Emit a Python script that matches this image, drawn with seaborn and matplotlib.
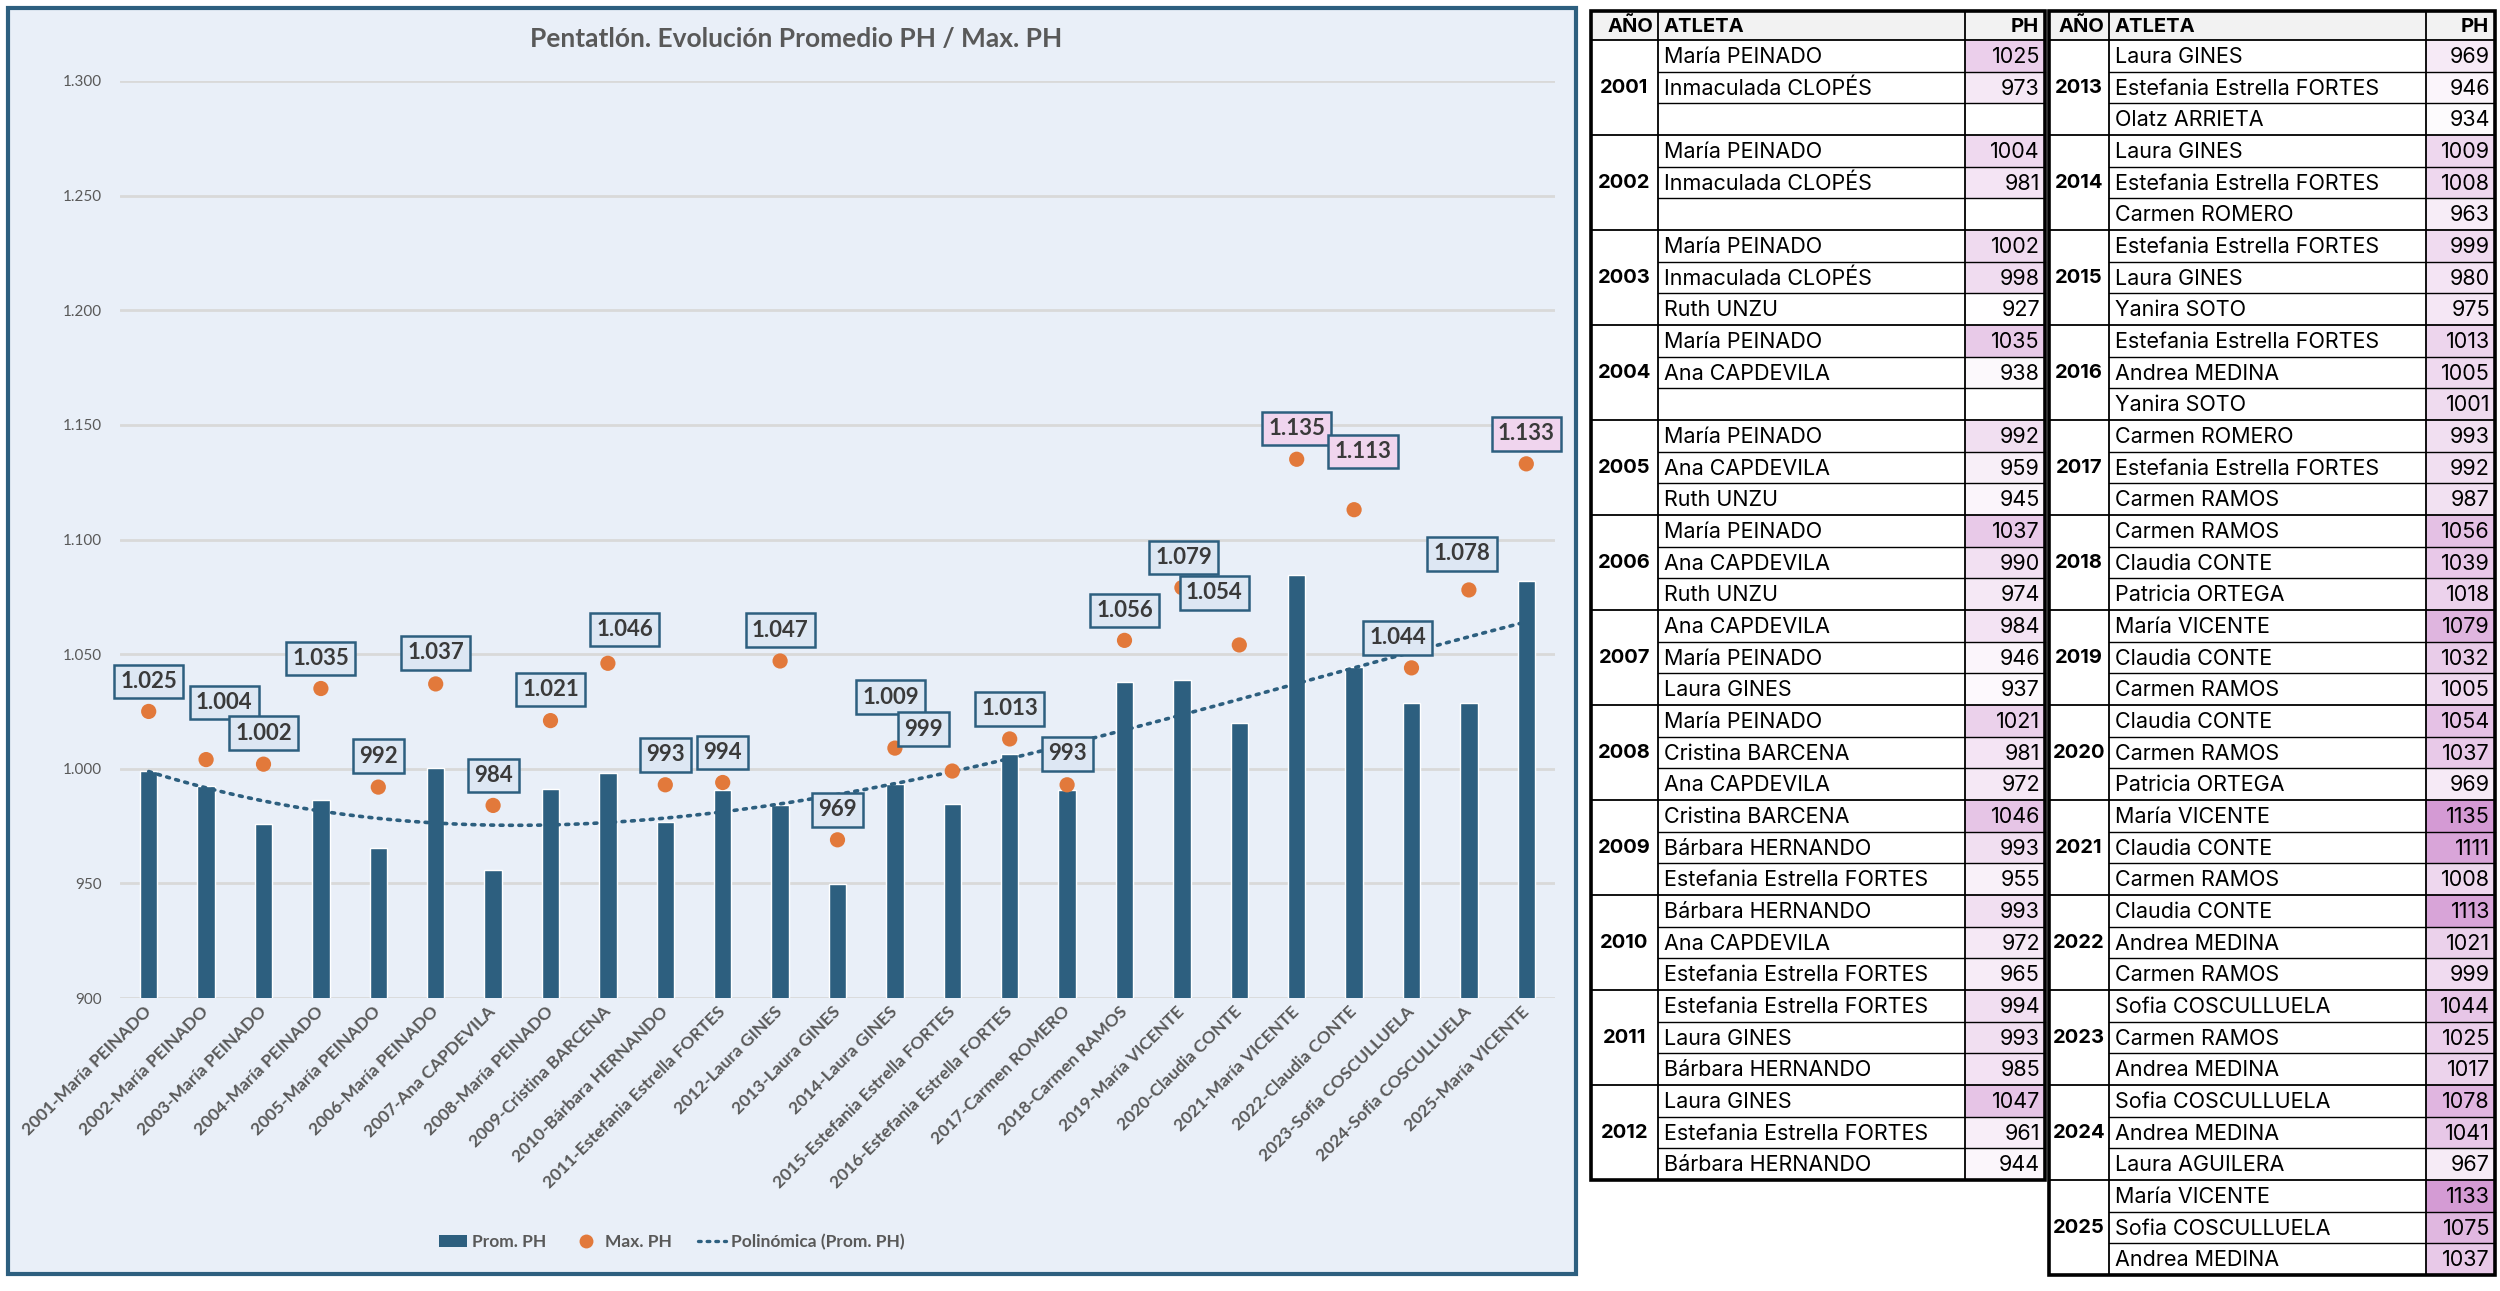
import numpy as np
import seaborn as sns
import matplotlib.pyplot as plt
from matplotlib import font_manager
from matplotlib.patches import Rectangle, Patch
from matplotlib.lines import Line2D
from matplotlib.colors import LinearSegmentedColormap, Normalize
from matplotlib.ticker import FuncFormatter

# ---- chart data ----
years = list(range(2001, 2026))
leaders = ["María PEINADO", "María PEINADO", "María PEINADO", "María PEINADO", "María PEINADO",
           "María PEINADO", "Ana CAPDEVILA", "María PEINADO", "Cristina BARCENA", "Bárbara HERNANDO",
           "Estefania Estrella FORTES", "Laura GINES", "Laura GINES", "Laura GINES",
           "Estefania Estrella FORTES", "Estefania Estrella FORTES", "Carmen ROMERO", "Carmen RAMOS",
           "María VICENTE", "Claudia CONTE", "María VICENTE", "Claudia CONTE", "Sofia COSCULLUELA",
           "Sofia COSCULLUELA", "María VICENTE"]
prom_ph = [999.0, 992.5, 975.7, 986.5, 965.3, 1000.3, 955.7, 991.3, 998.0, 976.7, 990.7, 984.0,
           949.7, 993.3, 984.7, 1006.3, 990.7, 1037.7, 1038.7, 1020.0, 1084.7, 1044.3, 1028.7,
           1028.7, 1081.7]
max_ph = [1025, 1004, 1002, 1035, 992, 1037, 984, 1021, 1046, 993, 994, 1047, 969, 1009, 999,
          1013, 993, 1056, 1079, 1054, 1135, 1113, 1044, 1078, 1133]

# ---- table data ----
left_years = list(range(2001, 2013))
left_athletes = [
    ["María PEINADO", "Inmaculada CLOPÉS"],
    ["María PEINADO", "Inmaculada CLOPÉS"],
    ["María PEINADO", "Inmaculada CLOPÉS", "Ruth UNZU"],
    ["María PEINADO", "Ana CAPDEVILA"],
    ["María PEINADO", "Ana CAPDEVILA", "Ruth UNZU"],
    ["María PEINADO", "Ana CAPDEVILA", "Ruth UNZU"],
    ["Ana CAPDEVILA", "María PEINADO", "Laura GINES"],
    ["María PEINADO", "Cristina BARCENA", "Ana CAPDEVILA"],
    ["Cristina BARCENA", "Bárbara HERNANDO", "Estefania Estrella FORTES"],
    ["Bárbara HERNANDO", "Ana CAPDEVILA", "Estefania Estrella FORTES"],
    ["Estefania Estrella FORTES", "Laura GINES", "Bárbara HERNANDO"],
    ["Laura GINES", "Estefania Estrella FORTES", "Bárbara HERNANDO"],
]
left_ph = [[1025, 973], [1004, 981], [1002, 998, 927], [1035, 938], [992, 959, 945],
           [1037, 990, 974], [984, 946, 937], [1021, 981, 972], [1046, 993, 955],
           [993, 972, 965], [994, 993, 985], [1047, 961, 944]]

right_years = list(range(2013, 2026))
right_athletes = [
    ["Laura GINES", "Estefania Estrella FORTES", "Olatz ARRIETA"],
    ["Laura GINES", "Estefania Estrella FORTES", "Carmen ROMERO"],
    ["Estefania Estrella FORTES", "Laura GINES", "Yanira SOTO"],
    ["Estefania Estrella FORTES", "Andrea MEDINA", "Yanira SOTO"],
    ["Carmen ROMERO", "Estefania Estrella FORTES", "Carmen RAMOS"],
    ["Carmen RAMOS", "Claudia CONTE", "Patricia ORTEGA"],
    ["María VICENTE", "Claudia CONTE", "Carmen RAMOS"],
    ["Claudia CONTE", "Carmen RAMOS", "Patricia ORTEGA"],
    ["María VICENTE", "Claudia CONTE", "Carmen RAMOS"],
    ["Claudia CONTE", "Andrea MEDINA", "Carmen RAMOS"],
    ["Sofia COSCULLUELA", "Carmen RAMOS", "Andrea MEDINA"],
    ["Sofia COSCULLUELA", "Andrea MEDINA", "Laura AGUILERA"],
    ["María VICENTE", "Sofia COSCULLUELA", "Andrea MEDINA"],
]
right_ph = [[969, 946, 934], [1009, 1008, 963], [999, 980, 975], [1013, 1005, 1001],
            [993, 992, 987], [1056, 1039, 1018], [1079, 1032, 1005], [1054, 1037, 969],
            [1135, 1111, 1008], [1113, 1021, 999], [1044, 1025, 1017], [1078, 1041, 967],
            [1133, 1075, 1037]]

categories = [f"{y}-{n}" for y, n in zip(years, leaders)]
x_pos = np.arange(len(years))

# label nudges in pixels (Excel labels were moved by hand)
label_dx = [0, 18, 0, 0, 0, 0, 0, 0, 17, 0, 0, 0, 0, -4, -29, 0, 0, 0, 2, -25, 0, 9, -14, -7, 0]
label_dy = [30, 57, 31, 30, 31, 31, 30, 31, 34, 30, 30, 31, 30, 51, 42, 30, 31, 30, 30, 52, 31, 58, 30, 36, 30]

# ---- style ----
sns.set_theme(style="white")
available = {f.name for f in font_manager.fontManager.ttflist}
chart_font = "Lato" if "Lato" in available else "DejaVu Sans"
table_font = "Inter" if "Inter" in available else "DejaVu Sans"
plt.rcParams["font.family"] = [chart_font, "DejaVu Sans"]

bar_color = "#2d5f7f"
dot_color = "#e2793b"
bg_color = "#e9eff8"
grey_txt = "#595959"
dots = (0, (0.8, 1.8))

W, H = 2500, 1291
fig = plt.figure(figsize=(W / 100, H / 100), dpi=100)
fig.patch.set_facecolor("white")

# chart panel background + border (behind the axes)
fig.patches.append(Rectangle((8 / W, 17 / H), 1568 / W, 1266 / H, transform=fig.transFigure,
                             fc=bg_color, ec=bar_color, lw=3, zorder=-5))

ax = fig.add_axes([120 / W, 1 - 998 / H, 1435 / W, 917 / H])
ax.set_facecolor("none")

sns.barplot(x=categories, y=prom_ph, color=bar_color, width=0.3, saturation=1, ax=ax, zorder=3)
# Excel "Polinómica" trendline on the averages
sns.regplot(x=x_pos, y=np.array(prom_ph), order=3, ci=None, scatter=False, ax=ax, truncate=True,
            color=bar_color,
            line_kws=dict(ls=dots, lw=2.6, dash_capstyle="round", zorder=4))
sns.scatterplot(x=x_pos, y=max_ph, color=dot_color, s=120, edgecolor="none", ax=ax, zorder=5)

for i, v in enumerate(max_ph):
    fill = "#f0d5ee" if v > 1100 else "#dde7f3"
    ax.annotate(f"{v:,}".replace(",", "."), xy=(i, v), xytext=(label_dx[i], label_dy[i]),
                textcoords="offset pixels", ha="center", va="center", fontsize=16,
                weight="bold", color="#3a3a3a", zorder=6,
                bbox=dict(boxstyle="square,pad=0.28", fc=fill, ec=bar_color, lw=1.8))

ax.set_xlim(-0.5, len(years) - 0.5)
ax.set_ylim(900, 1300)
ax.set_yticks(np.arange(900, 1301, 50))
ax.yaxis.set_major_formatter(FuncFormatter(lambda v, p: f"{v:,.0f}".replace(",", ".")))
ax.yaxis.grid(True, color="#d9d9d9", lw=2)
ax.set_axisbelow(True)
sns.despine(ax=ax, left=True, bottom=True)
ax.tick_params(axis="y", length=0, pad=13, labelsize=11, labelcolor=grey_txt)
ax.tick_params(axis="x", length=0, pad=8)
ax.set_xticks(x_pos)
ax.set_xticklabels(categories, rotation=45, ha="right", va="center", rotation_mode="anchor",
                   fontsize=12.5, weight="bold", color=grey_txt)
ax.set_xlabel("")
ax.set_ylabel("")

fig.text(796 / W, 1 - 39 / H, "Pentatlón. Evolución Promedio PH / Max. PH", ha="center",
         va="center", fontsize=19, weight="bold", color=grey_txt)

handles = [Patch(fc=bar_color, ec="none"),
           Line2D([], [], ls="none", marker="o", ms=10, mfc=dot_color, mec="none"),
           Line2D([], [], color=bar_color, ls=dots, lw=2.4, dash_capstyle="round")]
leg = fig.legend(handles, ["Prom. PH", "Max. PH", "Polinómica (Prom. PH)"], loc="center",
                 bbox_to_anchor=(672 / W, 1 - 1242 / H), ncol=3, frameon=False,
                 prop=dict(weight="bold", size=12.5), handlelength=1.6, columnspacing=1.5,
                 handletextpad=0.3)
for t in leg.get_texts():
    t.set_color(grey_txt)

# ---- tables ----
tab = fig.add_axes([0, 0, 1, 1], zorder=10)
tab.set_xlim(0, W)
tab.set_ylim(H, 0)
tab.axis("off")
tab.patch.set_alpha(0)

cmap = LinearSegmentedColormap.from_list("ph", ["#ffffff", "#d49ad4"])
norm = Normalize(925, 1135)
header_h = 29
row_h = 31.67
top = 11
tfs = 15.5
tfam = [table_font, "DejaVu Sans"]


def draw_table(cols, yrs, names, vals):
    x0, x1, x2, x3 = cols
    tab.add_patch(Rectangle((x0, top), x3 - x0, header_h, fc="#f2f2f2", ec="none"))
    hy = top + header_h / 2 + 1
    kw = dict(va="center", fontsize=14.5, weight="bold", family=tfam, color="black")
    tab.text(x1 - 5, hy, "AÑO", ha="right", **kw)
    tab.text(x1 + 6, hy, "ATLETA", ha="left", **kw)
    tab.text(x3 - 6, hy, "PH", ha="right", **kw)
    y = top + header_h
    tab.plot([x0, x3], [y, y], color="black", lw=1.3)
    for yr, nm, vv in zip(yrs, names, vals):
        for k in range(3):
            ry = y + k * row_h
            if k < len(vv):
                tab.add_patch(Rectangle((x2, ry), x3 - x2, row_h, fc=cmap(norm(vv[k])), ec="none"))
                tab.text(x1 + 6, ry + row_h / 2 + 1, nm[k], ha="left", va="center", fontsize=tfs,
                         family=tfam, color="black")
                tab.text(x3 - 5, ry + row_h / 2 + 1, str(vv[k]), ha="right", va="center",
                         fontsize=tfs, family=tfam, color="black")
            if k < 2:
                tab.plot([x1, x3], [ry + row_h, ry + row_h], color="black", lw=1.0)
        tab.text((x0 + x1) / 2, y + 1.5 * row_h, str(yr), ha="center", va="center", fontsize=14.5,
                 weight="bold", family=tfam, color="black")
        y += 3 * row_h
        tab.plot([x0, x3], [y, y], color="black", lw=1.3)
    for xv in (x1, x2):
        tab.plot([xv, xv], [top, y], color="black", lw=1.3)
    tab.add_patch(Rectangle((x0, top), x3 - x0, y - top, fc="none", ec="black", lw=2.6))


draw_table((1591, 1658, 1965, 2045), left_years, left_athletes, left_ph)
draw_table((2049, 2109, 2426, 2495), right_years, right_athletes, right_ph)

fig.savefig("out.png", dpi=100, facecolor="white")
